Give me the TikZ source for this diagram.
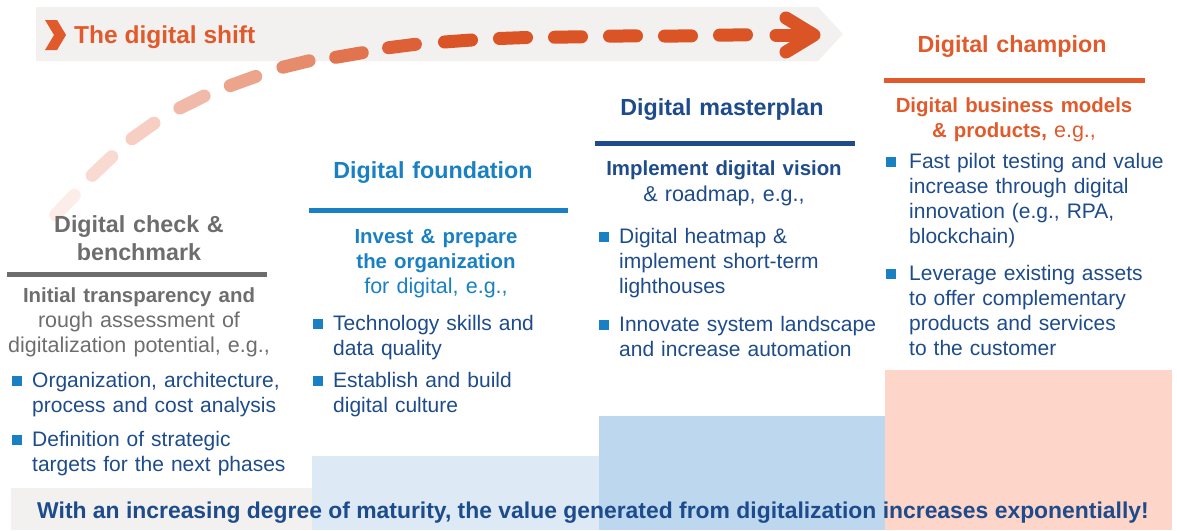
\documentclass[tikz,border=0pt]{standalone}
\usepackage{fontspec}
\setmainfont{Liberation Sans}
\definecolor{bannergrey}{HTML}{F2F1F0}
\definecolor{bargrey}{HTML}{F2F1F0}
\definecolor{lightblue}{HTML}{DDEAF6}
\definecolor{medblue}{HTML}{BDD8EE}
\definecolor{salmon}{HTML}{FDD5C9}
\definecolor{greytext}{HTML}{6D6D6D}
\definecolor{midblue}{HTML}{1A80C4}
\definecolor{darkblue}{HTML}{1D4B8B}
\definecolor{orangetext}{HTML}{E05A2B}
\definecolor{dashorange}{HTML}{DA5426}
\definecolor{dashpale}{HTML}{FDF0EC}
\tikzset{
  colhead/.style={font=\fontsize{23.3}{28}\selectfont\bfseries, text width=320pt, align=center, inner sep=0pt, anchor=base},
  subhead/.style={font=\fontsize{21.5}{25}\selectfont, text width=320pt, align=center, inner sep=0pt, anchor=base},
  bitem/.style={font=\fontsize{21}{25.3}\selectfont, text width=300pt, align=left, inner sep=0pt, anchor=base west, text=darkblue},
  bsq/.style={fill=midblue, minimum size=10pt, inner sep=0pt, anchor=south west},
  colrule/.style={line width=5pt},
  dashmark/.style={line width=13pt, line cap=round},
}
\newcommand{\bsub}[1]{{\fontsize{20.4}{25}\selectfont\bfseries #1}}
\begin{document}
\begin{tikzpicture}[x=1pt,y=-1pt]
\useasboundingbox (0,0) rectangle (1177,530);
% backgrounds
\fill[bargrey] (11,488) rectangle (1172,530);
\fill[lightblue] (312,456) rectangle (599,530);
\fill[medblue] (599,416) rectangle (885,530);
\fill[salmon] (885,370) rectangle (1172,530);
% banner
\fill[bannergrey] (36,7) -- (818,7) -- (843,34) -- (818,61) -- (36,61) -- cycle;
\fill[orangetext] (45,20) -- (57,20) -- (66,35) -- (57,50) -- (45,50) -- (54,35) -- cycle;
\node[font=\fontsize{24.5}{28}\selectfont\bfseries, text=orangetext, inner sep=0pt, anchor=base west] (title) at (74,43) {The digital shift};
% dashed curve, fading in
\foreach \xa/\ya/\xb/\yb/\pc in {
  55.7/214.8/74.3/195.2/2,
  92.2/175.3/111.8/156.7/14,
  132/138.8/154/123.2/21,
  179.9/108/204.1/96/35,
  230.3/85.6/255.7/76.4/49,
  282.9/67.2/309.1/60.8/65,
  335.7/57.3/362.3/52.7/80,
  388.6/47.7/415.4/44.3/92,
  444.5/42/471.5/40/100,
  499.5/38.5/526.5/37.5/100,
  554.5/37.25/581.5/36.75/100,
  609.5/36.1/636.5/35.9/100,
  664.5/36.1/691.5/35.9/100,
  719.5/35.2/746.5/34.8/100}
  {\draw[dashmark, color=dashorange!\pc!dashpale] (\xa,\ya) -- (\xb,\yb);}
\draw[dashmark, dashorange, line join=round] (786,18) -- (814,35) -- (786,52);
\draw[dashmark, dashorange] (776,35) -- (810,35);
% column 1
\node[colhead, text=greytext] (h1) at (139,232) {Digital check \&\\benchmark};
\draw[colrule, greytext] (7,274.5) -- (267,274.5);
\node[subhead, text=greytext] (s1) at (139,302) {\bsub{Initial transparency and}\\rough assessment of\\digitalization potential, e.g.,};
\node[bsq] (q1a) at (12,386) {};
\node[bitem] (b1a) at (32,387) {Organization, architecture,\\process and cost analysis};
\node[bsq] (q1b) at (12,445) {};
\node[bitem] (b1b) at (32,446) {Definition of strategic\\targets for the next phases};
% column 2
\node[colhead, text=midblue] (h2) at (433,178) {Digital foundation};
\draw[colrule, midblue] (309,210.5) -- (568,210.5);
\node[subhead, text=midblue] (s2) at (436,243) {\bsub{Invest \& prepare}\\\bsub{the organization}\\for digital, e.g.,};
\node[bsq] (q2a) at (313,329) {};
\node[bitem] (b2a) at (333,330) {Technology skills and\\data quality};
\node[bsq] (q2b) at (313,386) {};
\node[bitem] (b2b) at (333,387) {Establish and build\\digital culture};
% column 3
\node[colhead, text=darkblue] (h3) at (722,115) {Digital masterplan};
\draw[colrule, darkblue] (595,143.5) -- (855,143.5);
\node[subhead, text=darkblue, font=\fontsize{21.5}{26}\selectfont] (s3) at (724,175) {\bsub{Implement digital vision}\\\& roadmap, e.g.,};
\node[bsq] (q3a) at (599,242) {};
\node[bitem] (b3a) at (619,243) {Digital heatmap \&\\implement short-term\\lighthouses};
\node[bsq] (q3b) at (599,330) {};
\node[bitem] (b3b) at (619,331) {Innovate system landscape\\and increase automation};
% column 4
\node[colhead, text=orangetext] (h4) at (1012,52) {Digital champion};
\draw[colrule, orangetext] (884,80.5) -- (1145,80.5);
\node[subhead, text=orangetext] (s4) at (1014,112) {\bsub{Digital business models}\\\bsub{\& products,} e.g.,};
\node[bsq] (q4a) at (886,167) {};
\node[bitem] (b4a) at (909,168) {Fast pilot testing and value\\increase through digital\\innovation (e.g., RPA,\\blockchain)};
\node[bsq] (q4b) at (886,279) {};
\node[bitem] (b4b) at (909,280) {Leverage existing assets\\to offer complementary\\products and services\\to the customer};
% bottom line
\node[font=\fontsize{22.9}{26}\selectfont\bfseries, text=darkblue, inner sep=0pt, anchor=base west] (bottom) at (37,518) {With an increasing degree of maturity, the value generated from digitalization increases exponentially!};
\end{tikzpicture}
\end{document}
